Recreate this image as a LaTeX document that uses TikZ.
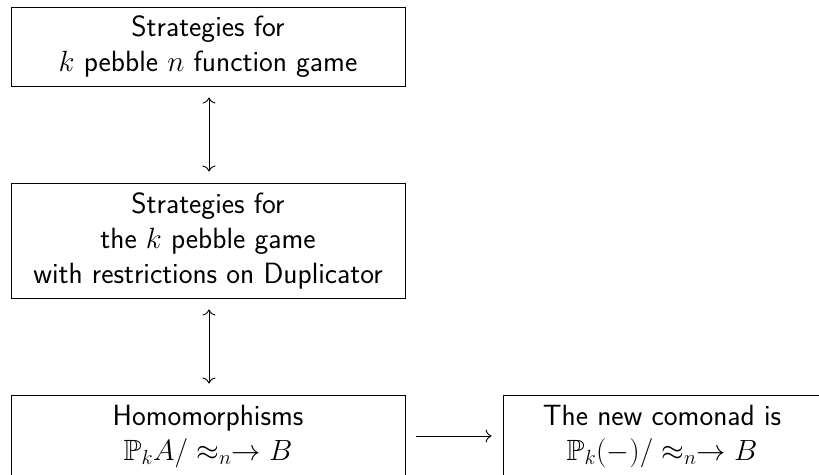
\RequirePackage{fix-cm}
\documentclass[tikz,border=0pt]{standalone}
\usepackage{amssymb}
\usepackage{fontspec}
\usetikzlibrary{arrows.meta}
\begin{document}
\begin{tikzpicture}[x=1pt,y=-1pt,
  box/.style={draw, line width=0.9pt, rectangle, align=center,
    font=\fontsize{29.3}{35}\selectfont\sffamily, inner sep=0pt, minimum width=394pt},
  conn/.style={line width=0.9pt, shorten <=11pt, shorten >=11pt},
  >={Computer Modern Rightarrow[length=6pt,width=13pt]}]
\useasboundingbox (0,0) rectangle (819,474);
\clip (0,0) rectangle (819,474);
\node[box, minimum height=79pt] (top) at (208,46.5) {Strategies for\\ $k$ pebble $n$ function game};
\node[box, minimum height=115pt] (mid) at (208,240.5) {Strategies for\\ the $k$ pebble game\\ with restrictions on Duplicator};
\node[box, minimum height=82pt] (bl) at (208,436) {Homomorphisms\\ $\mathbb{P}_kA/\approx_n\to B$};
\node[box, minimum height=82pt, minimum width=318pt] (br) at (662,436) {The new comonad is\\ $\mathbb{P}_k(-)/\approx_n\to B$};
\draw[conn, <->] ([xshift=1pt]top.south) -- ([xshift=1pt]mid.north);
\draw[conn, <->] ([xshift=1pt]mid.south) -- ([xshift=1pt]bl.north);
\draw[conn, ->] (bl.east |- 0,436) -- (br.west |- 0,436);
\end{tikzpicture}
\end{document}
